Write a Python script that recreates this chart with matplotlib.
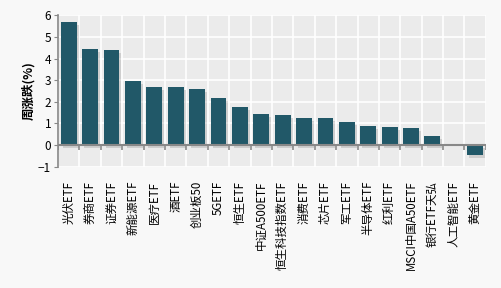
import numpy as np
import matplotlib.pyplot as plt
import matplotlib.patheffects as pe

plt.rcParams['font.family'] = ['Noto Sans CJK SC', 'DejaVu Sans']

names = ["光伏ETF", "券商ETF", "证券ETF", "新能源ETF", "医疗ETF", "酒ETF", "创业板50",
         "5GETF", "恒生ETF", "中证A500ETF", "恒生科技指数ETF", "消费ETF", "芯片ETF",
         "军工ETF", "半导体ETF", "红利ETF", "MSCI中国A50ETF", "银行ETF天弘",
         "人工智能ETF", "黄金ETF"]
change = [5.69, 4.43, 4.39, 2.97, 2.69, 2.69, 2.60, 2.18, 1.77, 1.44, 1.40,
          1.26, 1.26, 1.07, 0.89, 0.84, 0.80, 0.43, 0.0, -0.45]

fig = plt.figure(figsize=(5.01, 2.88), dpi=100, facecolor='#f8f8f8')
ax = fig.add_axes([0.1158, 0.421, 0.854, 0.526])
ax.set_facecolor('#ebebeb')

x = np.arange(len(names))
bars = ax.bar(x, change, width=0.74, color='#215868', zorder=3)
for b in bars:
    b.set_path_effects([pe.SimplePatchShadow(offset=(1.5, -2), shadow_rgbFace='#999999', alpha=0.35),
                        pe.Normal()])

ax.set_xlim(-0.5, len(names) - 0.5)
ax.set_ylim(-1, 6)
ax.set_yticks(range(-1, 7))
ax.set_xticks(x)
ax.set_xticklabels(names, rotation=90, fontsize=8.3, va='top', ha='center')
ax.set_xticks(np.arange(-0.5, len(names)), minor=True)
ax.tick_params(axis='x', which='both', length=0, pad=10)
ax.tick_params(axis='y', length=3, color='#888888', labelsize=8.5, pad=2)

ax.grid(True, which='major', axis='y', color='white', lw=1.2, zorder=0)
ax.grid(True, which='minor', axis='x', color='white', lw=1.2, zorder=0)
ax.set_axisbelow(True)

for s in ['top', 'right', 'bottom']:
    ax.spines[s].set_visible(False)
ax.spines['left'].set_color('#888888')
ax.spines['left'].set_linewidth(1.2)

ax.axhline(0, color='#888888', lw=1.5, zorder=4)
ax.vlines(np.arange(-0.5, len(names)), -0.24, 0, color='#888888', lw=1.2, zorder=4)

ax.set_ylabel("周涨跌(%)", fontsize=9, fontweight='bold', labelpad=2)

fig.savefig('out.png', dpi=100, facecolor=fig.get_facecolor())
